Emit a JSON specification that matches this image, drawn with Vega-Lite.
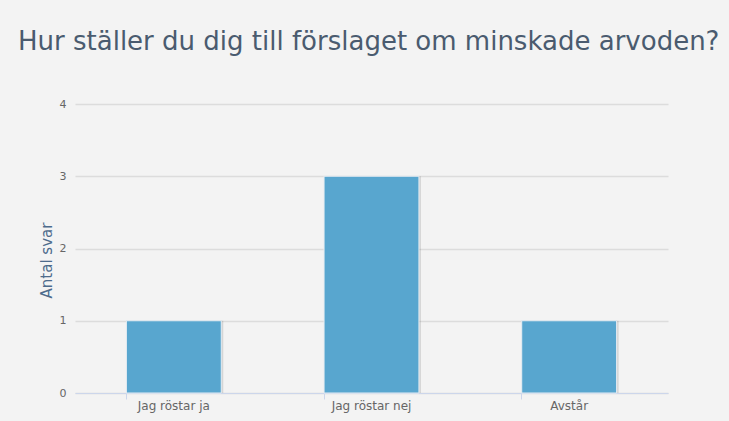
{
  "$schema": "https://vega.github.io/schema/vega-lite/v6.json",
  "width": 593,
  "height": 289,
  "autosize": {"type": "none"},
  "padding": {"left": 75, "top": 104, "right": 61, "bottom": 28},
  "background": "#f3f3f3",
  "title": {
    "text": "Hur ställer du dig till förslaget om minskade arvoden?",
    "anchor": "start",
    "frame": "group",
    "dx": -57,
    "offset": 43,
    "font": "DejaVu Sans",
    "fontSize": 26,
    "fontWeight": "normal",
    "color": "#4a5b6f"
  },
  "data": {
    "values": [
      {"svar": "Jag röstar ja", "antal": 1},
      {"svar": "Jag röstar nej", "antal": 3},
      {"svar": "Avstår", "antal": 1}
    ]
  },
  "config": {
    "view": {"stroke": null},
    "font": "DejaVu Sans"
  },
  "encoding": {
    "x": {
      "field": "svar",
      "type": "nominal",
      "sort": null,
      "scale": {"paddingInner": 0.52, "paddingOuter": 0.26},
      "axis": {
        "title": null,
        "labelAngle": 0,
        "labelColor": "#666666",
        "labelFontSize": 12,
        "labelPadding": 1,
        "domainColor": "#ccd6eb",
        "tickColor": "#ccd6eb",
        "tickSize": 6,
        "bandPosition": 0,
        "grid": false
      }
    },
    "y": {
      "field": "antal",
      "type": "quantitative",
      "scale": {"domain": [0, 4], "nice": false},
      "axis": {
        "title": "Antal svar",
        "titleColor": "#4d6b8c",
        "titleFont": "DejaVu Sans",
        "titleFontSize": 15,
        "titleFontWeight": "normal",
        "titleX": -21,
        "titleY": 156,
        "values": [0, 1, 2, 3, 4],
        "format": "d",
        "domain": false,
        "ticks": false,
        "labelColor": "#666666",
        "labelFontSize": 11,
        "labelPadding": 9,
        "gridColor": "#dcdcdc",
        "gridWidth": 1.5
      }
    }
  },
  "layer": [
    {"mark": {"type": "bar", "color": "#000000", "opacity": 0.12, "xOffset": 2, "yOffset": 0}},
    {"mark": {"type": "bar", "color": "#58a6cf", "stroke": "#e6edf3", "strokeWidth": 1}}
  ]
}
